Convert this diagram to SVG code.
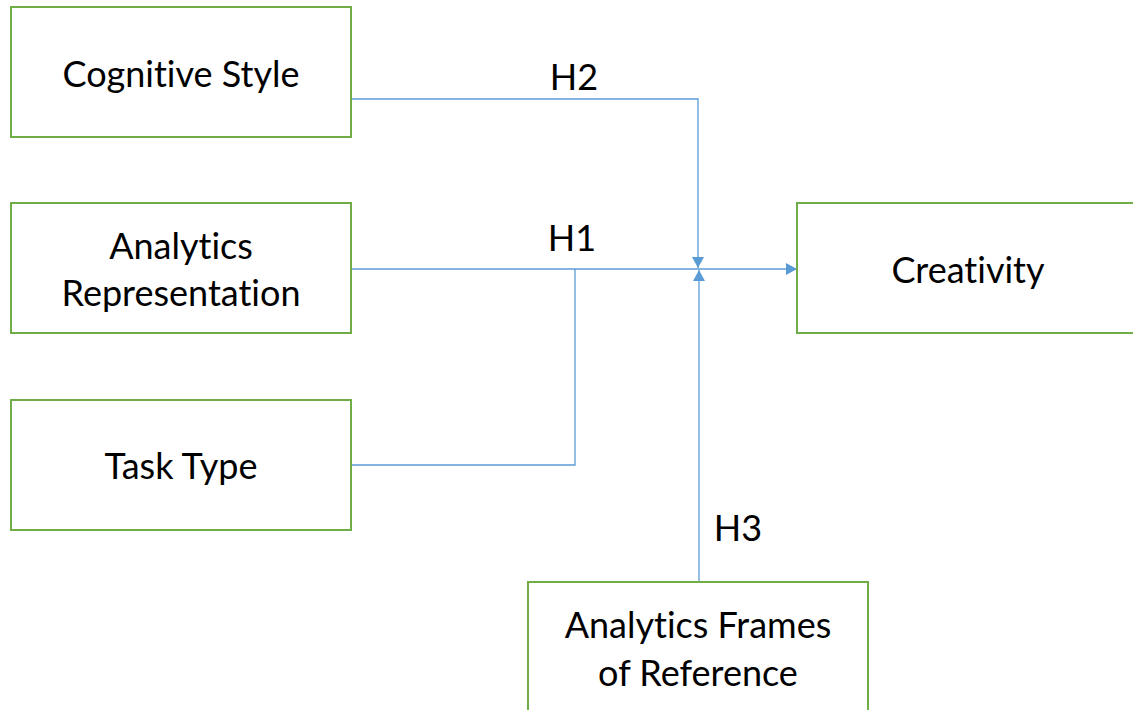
<svg xmlns="http://www.w3.org/2000/svg" width="1133" height="710" viewBox="0 0 1133 710">
  <style>
    .box { fill: #ffffff; stroke: #70ad47; stroke-width: 2; }
    .lbl { font-family: Lato, "Open Sans", sans-serif; font-size: 36px; fill: #000000; text-anchor: middle; font-variant-ligatures: none; }
    .conn { fill: none; stroke: #5b9bd5; stroke-width: 1.3; }
  </style>
  <defs>
    <marker id="arrow" viewBox="0 0 11 12" refX="11" refY="6" markerWidth="11" markerHeight="12" markerUnits="userSpaceOnUse" orient="auto">
      <path d="M0,0 L11,6 L0,12 Z" fill="#5b9bd5"/>
    </marker>
  </defs>
  <rect width="1133" height="710" fill="#ffffff"/>

  <g id="connectors">
    <path class="conn" d="M351,99 H698 V268" marker-end="url(#arrow)"/>
    <path class="conn" d="M351,269 H797" marker-end="url(#arrow)"/>
    <path class="conn" d="M351,465 H575 V269"/>
    <path class="conn" d="M699,582 V270" marker-end="url(#arrow)"/>
    <text class="lbl" x="574" y="90">H2</text>
    <text class="lbl" x="572" y="251">H1</text>
    <text class="lbl" x="738" y="541">H3</text>
  </g>

  <g id="cognitive-style">
    <rect class="box" x="11" y="7" width="340" height="130"/>
    <text class="lbl" x="181" y="87">Cognitive Style</text>
  </g>

  <g id="analytics-representation">
    <rect class="box" x="11" y="203" width="340" height="130"/>
    <text class="lbl" x="181" y="259">Analytics</text>
    <text class="lbl" x="181" y="306">Representation</text>
  </g>

  <g id="task-type">
    <rect class="box" x="11" y="400" width="340" height="130"/>
    <text class="lbl" x="181" y="479">Task Type</text>
  </g>

  <g id="creativity">
    <rect class="box" x="797" y="203" width="345" height="130"/>
    <text class="lbl" x="968" y="283">Creativity</text>
  </g>

  <g id="analytics-frames">
    <rect class="box" x="528" y="582" width="340" height="140"/>
    <text class="lbl" x="698" y="638">Analytics Frames</text>
    <text class="lbl" x="698" y="686">of Reference</text>
  </g>
</svg>
